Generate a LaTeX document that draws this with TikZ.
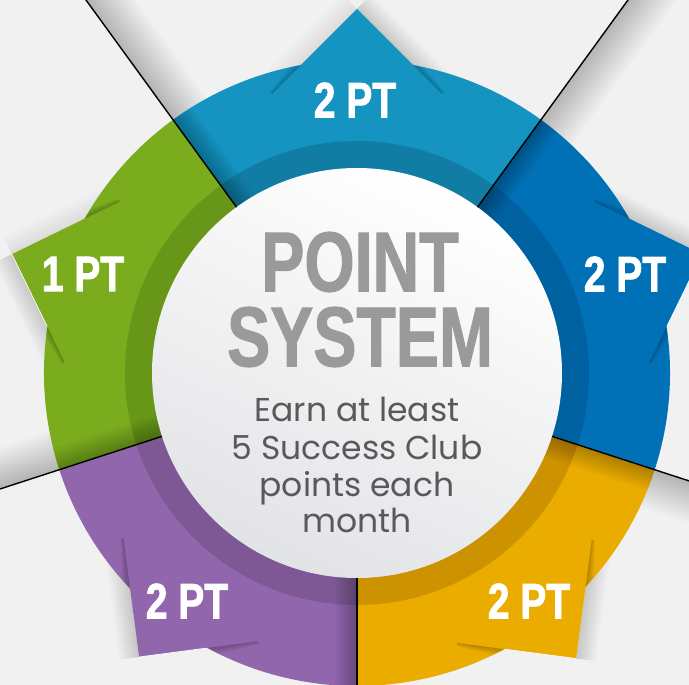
\documentclass[tikz,border=0pt]{standalone}
\usepackage{fontspec}
\newfontfamily\condfont[FakeStretch=0.76,FakeBold=1.2]{Liberation Sans Bold}
\newfontfamily\labelfont[FakeStretch=0.78,FakeBold=1.5]{Liberation Sans Bold}
\newfontfamily\subfont{Poppins}
\usetikzlibrary{calc}
\definecolor{bg}{HTML}{F1F1F1}
\definecolor{cTop}{HTML}{1593C1}
\definecolor{cTopD}{HTML}{127DA4}
\definecolor{cRight}{HTML}{0071B6}
\definecolor{cRightD}{HTML}{0061A0}
\definecolor{cYel}{HTML}{EBAC00}
\definecolor{cYelD}{HTML}{CD9200}
\definecolor{cPur}{HTML}{9266AD}
\definecolor{cPurD}{HTML}{7D5894}
\definecolor{cGrn}{HTML}{7AAC1E}
\definecolor{cGrnD}{HTML}{679619}
\definecolor{titlegray}{HTML}{9A9A9A}
\definecolor{subgray}{HTML}{58595B}
\definecolor{centergray}{HTML}{E2E3E5}
\tikzset{
  sector/.style n args={4}{insert path={(#1:#3) arc[start angle=#1,end angle=#2,radius=#3] -- (#2:#4) arc[start angle=#2,end angle=#1,radius=#4] -- cycle}},
  ptlabel/.style={text=white, inner sep=0pt, font=\labelfont\fontsize{50}{50}\selectfont},
  titletext/.style={align=center, inner sep=0pt, text=titlegray, font=\condfont\fontsize{85}{75}\selectfont},
  subtext/.style={anchor=base, inner sep=0pt, text=subgray, font=\subfont\fontsize{33}{33}\selectfont},
  divider/.style={black, line width=1.4pt},
}
% soft shadow strip beside an edge: start, end, normal angle, opacity
\newcommand\edgeshade[4]{%
  \foreach \w in {2,4,...,20}{\fill[black,opacity=#4] (#1) -- (#2) -- ($(#2)+(#3:\w)$) -- ($(#1)+(#3:\w)$) -- cycle;}}
% tapered fold shadow on the ring
\newcommand\foldshade[3]{%
  \foreach \w in {2,4,...,16}{\fill[black,opacity=0.026] (#1) -- (#2) -- ($(#2)+(#3:0.2*\w)$) -- ($(#1)+(#3:\w)$) -- cycle;}}
\begin{document}
\begin{tikzpicture}[x=1pt,y=1pt]
\useasboundingbox (-357,-312) rectangle (332,373);
\clip (-357,-312) rectangle (332,373);
\fill[bg] (-357,-312) rectangle (332,373);

% shadows of the divider lines on the background
\foreach \t in {126,54,-18,-90,198}{
  \foreach \w in {2,4,...,40}{
    \fill[black,opacity=0.011,rotate=\t] (300,0) rectangle (1000,-\w);
  }
}

% tab geometry
\foreach \n/\a/\r in {T/90/364,G/161/365,R/19/365,P/-127.5/358,Y/-52.5/360}{
  \coordinate (\n-P) at (\a:\r);
  \coordinate (\n-A) at ($(\n-P)+(\a+135:120)$);
  \coordinate (\n-B) at ($(\n-P)+(\a+225:120)$);
  \coordinate (\n-F) at ($(\n-P)+(\a+180:169.7)$);
}

% tab shadows on the background
\edgeshade{T-P}{T-B}{45}{0.016}
\edgeshade{T-P}{T-A}{135}{0.007}
\edgeshade{G-P}{G-A}{206}{0.016}
\edgeshade{G-P}{G-B}{116}{0.007}
\edgeshade{R-P}{R-A}{64}{0.016}
\edgeshade{P-P}{P-B}{-172.5}{0.016}
\edgeshade{Y-P}{Y-A}{-7.5}{0.016}

% tabs
\fill[cTop] (T-P) -- (T-A) -- (T-F) -- (T-B) -- cycle;
\fill[cGrn] (G-P) -- (G-A) -- (G-F) -- (G-B) -- cycle;
\fill[cRight] (R-P) -- (R-A) -- (R-F) -- (R-B) -- cycle;
\fill[cPur] (P-P) -- (P-A) -- (P-F) -- (P-B) -- cycle;
\fill[cYel] (Y-P) -- (Y-A) -- (Y-F) -- (Y-B) -- cycle;

% light edges of tabs
\draw[white,opacity=0.9,line width=0.8pt] (G-P) -- (G-A);
\draw[white,opacity=0.9,line width=0.8pt] (P-P) -- (P-A);
\draw[white,opacity=0.9,line width=0.8pt] (Y-P) -- (Y-B);
\draw[white,opacity=0.9,line width=0.8pt] (R-P) -- (R-B);

% ring segments
\fill[cTop, sector={54}{126}{205}{313}];
\fill[cRight, sector={-18}{54}{205}{313}];
\fill[cYel, sector={-90}{-18}{205}{313}];
\fill[cPur, sector={-162}{-90}{205}{313}];
\fill[cGrn, sector={126}{198}{205}{313}];
% darker inner band
\fill[cTopD, sector={54}{126}{200}{232}];
\fill[cRightD, sector={-18}{54}{200}{232}];
\fill[cYelD, sector={-90}{-18}{200}{232}];
\fill[cPurD, sector={-162}{-90}{200}{232}];
\fill[cGrnD, sector={126}{198}{200}{232}];

\begin{scope}
  \clip (0,0) circle (313);
  % shading next to each divider
  \foreach \t in {126,54,-18,-90,198}{
    \foreach \w in {2,4,...,22}{
      \fill[black,opacity=0.022,rotate=\t] (200,0) rectangle (320,-\w);
    }
  }
  % fold shadows of the tabs on the ring
  \foldshade{T-P}{T-A}{135}
  \foldshade{T-P}{T-B}{45}
  \foldshade{G-P}{G-A}{206}
  \foldshade{G-P}{G-B}{116}
  \foldshade{R-P}{R-A}{64}
  \foldshade{R-P}{R-B}{-26}
  \foldshade{P-P}{P-A}{-82.5}
  \foldshade{P-P}{P-B}{-172.5}
  \foldshade{Y-P}{Y-A}{-7.5}
  \foldshade{Y-P}{Y-B}{-97.5}
\end{scope}

% centre disc
\shade[top color=white, bottom color=centergray, shading angle=-25] (0,0) circle (205);

% dividers
\foreach \t in {126,54,-18,-90,198}{
  \draw[divider] (\t:205) -- (\t:1000);
}

% labels
\node[ptlabel] (lblT) at (-2,273) {2 PT};
\node[ptlabel] (lblG) at (-274,99) {1 PT};
\node[ptlabel] (lblR) at (268,99) {2 PT};
\node[ptlabel] (lblP) at (-170,-228) {2 PT};
\node[ptlabel] (lblY) at (172,-228) {2 PT};

\node[titletext] (title) at (3,73.5) {POINT\\SYSTEM};

\node[subtext] (sub1) at (0,-49) {Earn at least};
\node[subtext] (sub2) at (0,-87) {5 Success Club};
\node[subtext] (sub3) at (0,-124) {points each};
\node[subtext] (sub4) at (0,-160) {month};
\end{tikzpicture}
\end{document}
